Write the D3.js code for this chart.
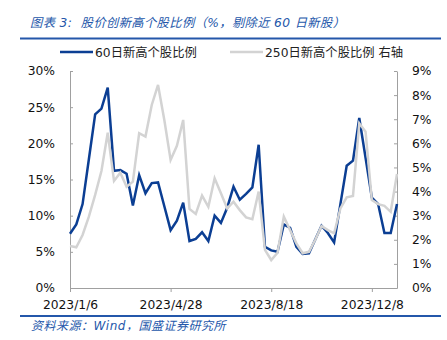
<!DOCTYPE html>
<html>
<head>
<meta charset="utf-8">
<script src="https://cdn.jsdelivr.net/npm/d3@7"></script>
<style>
  html, body { margin: 0; padding: 0; background: #fff; }
  svg { display: block; font-family: "DejaVu Sans", "Noto Sans CJK SC", sans-serif; }
</style>
</head>
<body>
<svg id="chart" width="447" height="340"></svg>
<script>
// Weekly observation dates
const dates = [
  "2023/1/6","2023/1/13","2023/1/20","2023/1/27",
  "2023/2/3","2023/2/10","2023/2/17","2023/2/24",
  "2023/3/3","2023/3/10","2023/3/17","2023/3/24","2023/3/31",
  "2023/4/7","2023/4/14","2023/4/21","2023/4/28",
  "2023/5/5","2023/5/12","2023/5/19","2023/5/26",
  "2023/6/2","2023/6/9","2023/6/16","2023/6/23","2023/6/30",
  "2023/7/7","2023/7/14","2023/7/21","2023/7/28",
  "2023/8/4","2023/8/11","2023/8/18","2023/8/25",
  "2023/9/1","2023/9/8","2023/9/15","2023/9/22","2023/9/29",
  "2023/10/6","2023/10/13","2023/10/20","2023/10/27",
  "2023/11/3","2023/11/10","2023/11/17","2023/11/24",
  "2023/12/1","2023/12/8","2023/12/15","2023/12/22","2023/12/29",
  "2024/1/5"
];

// Share of stocks at 60-day highs (%, left axis)
const high60 = [
  7.5, 8.8, 11.6, 17.8, 24.0, 24.8, 27.7, 16.2, 16.3, 15.8,
  11.4, 15.6, 13.1, 14.5, 14.6, 11.3, 8.0, 9.3, 11.8, 6.5,
  6.8, 7.7, 6.5, 10.0, 9.0, 11.1, 14.0, 12.2, 13.0, 13.9,
  19.8, 5.7, 5.2, 5.0, 8.8, 8.3, 5.7, 4.7, 4.8, 6.7,
  8.6, 7.6, 6.3, 11.6, 16.9, 17.6, 23.5, 18.0, 12.5, 11.6,
  7.6, 7.6, 11.6
];

// Share of stocks at 250-day highs (%, right axis)
const high250 = [
  1.74, 1.69, 2.2, 2.96, 3.86, 4.85, 6.44, 4.44, 4.78, 4.2,
  4.41, 6.42, 6.28, 7.59, 8.42, 6.97, 5.31, 5.9, 6.97, 3.28,
  3.07, 3.83, 3.37, 4.55, 3.93, 3.3, 3.58, 3.23, 2.93, 2.85,
  4.0, 1.58, 1.16, 1.46, 2.96, 2.4, 1.85, 1.44, 1.5, 2.0,
  2.57, 2.4, 2.27, 3.3, 3.76, 3.82, 6.83, 6.48, 3.65, 3.48,
  3.41, 3.16, 4.73
];

const xTickLabels = ["2023/1/6", "2023/4/28", "2023/8/18", "2023/12/8"];
const leftTicks = [0, 5, 10, 15, 20, 25, 30];
const rightTicks = [0, 1, 2, 3, 4, 5, 6, 7, 8, 9];

const titleText = "图表 3:  股价创新高个股比例（%，剔除近 60 日新股）";
const sourceText = "资料来源：Wind，国盛证券研究所";
const seriesNames = ["60日新高个股比例", "250日新高个股比例 右轴"];

const BLUE = "#0b3e93";
const GREY = "#d3d3d3";
const HEAD = "#2457aa";
const AXIS = "#a0a0a0";

const svg = d3.select("#chart");
const plot = { left: 70, right: 397, top: 71, bottom: 288 };

const x = d3.scalePoint().domain(dates).range([plot.left, plot.right]);
const yL = d3.scaleLinear().domain([0, 30]).range([plot.bottom, plot.top]);
const yR = d3.scaleLinear().domain([0, 9]).range([plot.bottom, plot.top]);

// Header
svg.append("text")
  .attr("x", 30).attr("y", 27)
  .attr("fill", HEAD)
  .attr("font-size", 12.3)
  .attr("font-style", "italic")
  .attr("letter-spacing", 0.35)
  .style("white-space", "pre")
  .text(titleText);
svg.append("line")
  .attr("x1", 20).attr("x2", 441).attr("y1", 38.5).attr("y2", 38.5)
  .attr("stroke", HEAD).attr("stroke-width", 2);

// Legend
const legend = svg.append("g").attr("font-size", 12.3).attr("fill", "#222");
[[60, BLUE, seriesNames[0]], [230, GREY, seriesNames[1]]].forEach(([lx, c, t]) => {
  legend.append("line")
    .attr("x1", lx).attr("x2", lx + 33).attr("y1", 52).attr("y2", 52)
    .attr("stroke", c).attr("stroke-width", 2.5);
  legend.append("text").attr("x", lx + 35).attr("y", 56.5).text(t);
});

// Axes
const fmtPct = d => d + "%";
const axisLeft = d3.axisLeft(yL).tickValues(leftTicks).tickFormat(fmtPct)
  .tickSizeInner(-3).tickSizeOuter(0).tickPadding(15);
const axisRight = d3.axisRight(yR).tickValues(rightTicks).tickFormat(fmtPct)
  .tickSizeInner(-3).tickSizeOuter(0).tickPadding(15);
const axisBottom = d3.axisBottom(x).tickValues(xTickLabels)
  .tickSizeInner(4).tickSizeOuter(0).tickPadding(8);

function styleAxis(g) {
  g.select(".domain").attr("stroke", AXIS);
  g.selectAll(".tick line").attr("stroke", AXIS);
  g.selectAll(".tick text").attr("fill", "#111").attr("font-size", 12.3)
    .attr("font-family", "DejaVu Sans, sans-serif");
}

svg.append("g").attr("transform", `translate(${plot.left},0)`).call(axisLeft).call(styleAxis);
svg.append("g").attr("transform", `translate(${plot.right},0)`).call(axisRight).call(styleAxis);
svg.append("g").attr("transform", `translate(0,${plot.bottom})`).call(axisBottom).call(styleAxis);

// Series lines
const lineL = d3.line().x((d, i) => x(dates[i])).y(d => yL(d));
const lineR = d3.line().x((d, i) => x(dates[i])).y(d => yR(d));

svg.append("path").datum(high60)
  .attr("d", lineL).attr("fill", "none")
  .attr("stroke", BLUE).attr("stroke-width", 2.5).attr("stroke-linejoin", "miter");
svg.append("path").datum(high250)
  .attr("d", lineR).attr("fill", "none")
  .attr("stroke", GREY).attr("stroke-width", 2.5).attr("stroke-linejoin", "miter");

// Footer
svg.append("line")
  .attr("x1", 20).attr("x2", 441).attr("y1", 316).attr("y2", 316)
  .attr("stroke", HEAD).attr("stroke-width", 2);
svg.append("text")
  .attr("x", 31).attr("y", 330)
  .attr("fill", HEAD)
  .attr("font-size", 12)
  .attr("font-style", "italic")
  .attr("letter-spacing", 0.5)
  .text(sourceText);
</script>
</body>
</html>
